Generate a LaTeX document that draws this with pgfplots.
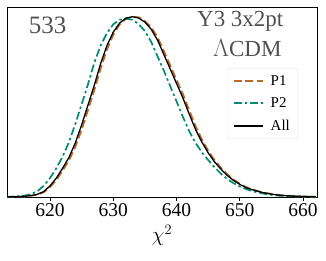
\documentclass[border=0pt]{standalone}
\usepackage{pgfplots}
\pgfplotsset{compat=1.18}
\usepackage{fontspec}
\setmainfont{Liberation Serif}
\definecolor{pone}{RGB}{184,106,40}
\definecolor{ptwo}{RGB}{0,140,110}
\definecolor{txtgray}{RGB}{80,80,80}
\pgfplotsset{
  sone/.style={draw=pone, line width=1.7pt, dash pattern=on 8pt off 3.5pt},
  stwo/.style={draw=ptwo, line width=1.7pt, dash pattern=on 8pt off 3pt on 2.5pt off 3pt},
  sall/.style={draw=black, line width=1.3pt, solid},
}
\pgfplotstableread{
x all p1 p2
613 0.000 0.000 0.001
614 0.001 0.001 0.002
615 0.002 0.002 0.004
616 0.004 0.003 0.008
617 0.008 0.007 0.016
618 0.015 0.013 0.032
619 0.030 0.026 0.062
620 0.062 0.054 0.105
621 0.105 0.094 0.160
622 0.160 0.146 0.225
623 0.220 0.203 0.305
624 0.300 0.278 0.405
625 0.400 0.373 0.515
626 0.510 0.482 0.625
627 0.620 0.592 0.745
628 0.740 0.712 0.840
629 0.840 0.818 0.910
630 0.915 0.900 0.958
631 0.965 0.957 0.983
632 0.992 0.988 0.990
633 1.000 1.000 0.983
634 0.993 0.997 0.960
635 0.970 0.977 0.920
636 0.930 0.942 0.860
637 0.870 0.886 0.780
638 0.790 0.810 0.700
639 0.710 0.730 0.615
640 0.630 0.650 0.530
641 0.550 0.572 0.445
642 0.460 0.481 0.365
643 0.375 0.394 0.300
644 0.305 0.320 0.248
645 0.245 0.257 0.205
646 0.195 0.205 0.165
647 0.155 0.163 0.130
648 0.120 0.127 0.100
649 0.092 0.097 0.077
650 0.070 0.074 0.058
651 0.052 0.055 0.044
652 0.040 0.042 0.032
653 0.030 0.032 0.024
654 0.022 0.023 0.017
655 0.016 0.017 0.012
656 0.011 0.012 0.008
657 0.008 0.008 0.006
658 0.006 0.006 0.004
659 0.004 0.004 0.003
660 0.003 0.003 0.002
661 0.002 0.002 0.001
662 0.001 0.001 0.001
}\data
\begin{document}
\begin{tikzpicture}
\begin{axis}[
  scale only axis,
  width=310pt, height=190pt,
  xmin=613.2, xmax=662.2,
  ymin=0, ymax=1.054,
  ytick=\empty,
  xtick={620,630,640,650,660},
  tick align=outside,
  major tick length=4pt,
  xtick pos=bottom,
  axis line style={line width=0.9pt},
  x tick style={line width=0.8pt,black},
  /pgf/number format/assume math mode=true,
  /pgf/number format/1000 sep={},
  tick label style={font=\fontsize{19.5}{22}\selectfont},
  xticklabel style={yshift=0pt, inner sep=2pt},
  xlabel={$\chi^2$},
  xlabel style={font=\fontsize{20}{22}\selectfont, yshift=-3pt},
  legend style={at={(0.939,0.679)}, anchor=north east, draw=gray!25, rounded corners=2.5pt,
    font=\fontsize{15}{17}\selectfont, inner xsep=6pt, inner ysep=5pt,
    row sep=7pt, column sep=5pt, legend cell align=left},
  legend image code/.code={\draw[#1] (0pt,0pt) -- (29pt,0pt);},
  clip=true,
]
\addlegendimage{sone}
\addlegendentry{P1}
\addlegendimage{stwo}
\addlegendentry{P2}
\addlegendimage{sall}
\addlegendentry{All}
\addplot[sone, forget plot] table[x=x,y=p1] {\data};
\addplot[stwo, forget plot] table[x=x,y=p2] {\data};
\addplot[sall, forget plot] table[x=x,y=all] {\data};
\node[font=\fontsize{25}{28}\selectfont, text=txtgray, anchor=center] at (axis description cs:0.131,0.905) {533};
\node[font=\fontsize{23}{26}\selectfont, text=txtgray, anchor=east] at (axis description cs:0.903,0.922) {Y3 3x2pt};
\node[font=\fontsize{23}{26}\selectfont, text=txtgray, anchor=east] at (axis description cs:0.897,0.784) {$\Lambda$CDM};
\end{axis}
\pgfresetboundingbox
\path[use as bounding box] (-7pt,-63pt) rectangle (319pt,197pt);
\end{tikzpicture}
\end{document}
